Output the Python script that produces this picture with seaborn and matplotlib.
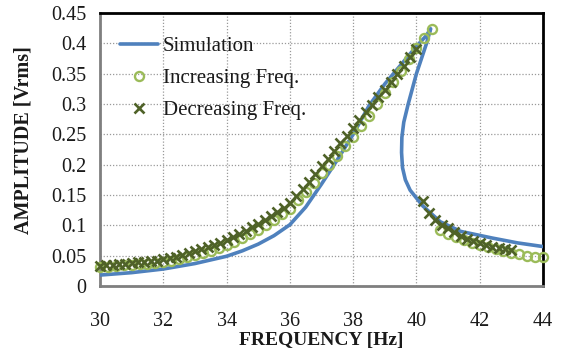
import numpy as np
import pandas as pd
import seaborn as sns
import matplotlib
matplotlib.use("Agg")
import matplotlib.pyplot as plt

# ==========================================
# Data
# ==========================================

# simulation: one continuous curve (goes up, folds back, comes down)
sim_freq = [30, 31, 32, 33, 34, 34.5, 35, 35.5, 36, 36.5, 37, 37.5, 38, 38.5,
            39, 39.5, 40, 40.3, 40.45, 40.32, 40.0, 39.74, 39.6, 39.54, 39.53,
            39.56, 39.65, 39.8, 40.2, 40.75, 41.4, 42.4, 43.2, 44]
sim_amp = [0.018, 0.022, 0.028, 0.037, 0.049, 0.058, 0.069, 0.083, 0.101,
           0.130, 0.168, 0.208, 0.250, 0.297, 0.333, 0.364, 0.395, 0.412,
           0.424, 0.400, 0.350, 0.300, 0.270, 0.245, 0.220, 0.195, 0.175,
           0.158, 0.132, 0.106, 0.090, 0.079, 0.071, 0.065]

# increasing frequency sweep
inc_freq = [30, 30.25, 30.5, 30.75, 31, 31.25, 31.5, 31.75, 32, 32.25, 32.5,
            32.75, 33, 33.25, 33.5, 33.75, 34, 34.25, 34.5, 34.75, 35, 35.25,
            35.5, 35.75, 36, 36.25, 36.5, 36.75, 37, 37.25, 37.5, 37.75, 38,
            38.25, 38.5, 38.75, 39, 39.25, 39.5, 39.75, 40, 40.25, 40.5,
            40.75, 41, 41.25, 41.5, 41.75, 42, 42.25, 42.5, 42.75, 43, 43.25,
            43.5, 43.75, 44]
inc_amp = [0.032, 0.032, 0.033, 0.034, 0.035, 0.036, 0.037, 0.038, 0.040,
           0.042, 0.045, 0.048, 0.051, 0.054, 0.058, 0.062, 0.067, 0.073,
           0.079, 0.086, 0.093, 0.101, 0.109, 0.118, 0.127, 0.141, 0.155,
           0.170, 0.186, 0.200, 0.215, 0.230, 0.245, 0.263, 0.281, 0.300,
           0.318, 0.337, 0.355, 0.374, 0.392, 0.408, 0.424,
           0.093, 0.086, 0.080, 0.075, 0.071, 0.067, 0.064, 0.061, 0.058,
           0.055, 0.052, 0.050, 0.048, 0.047]

# decreasing frequency sweep
dec_freq = [43.0, 42.8, 42.6, 42.4, 42.2, 42.0, 41.8, 41.6, 41.4, 41.2, 41.0,
            40.8, 40.6, 40.4, 40.2,
            40.0, 39.8, 39.6, 39.4, 39.2, 39.0, 38.8, 38.6, 38.4, 38.2, 38.0,
            37.8, 37.6, 37.4, 37.2, 37.0, 36.8, 36.6, 36.4, 36.2, 36.0, 35.8,
            35.6, 35.4, 35.2, 35.0, 34.8, 34.6, 34.4, 34.2, 34.0, 33.8, 33.6,
            33.4, 33.2, 33.0, 32.8, 32.6, 32.4, 32.2, 32.0, 31.8, 31.6, 31.4,
            31.2, 31.0, 30.8, 30.6, 30.4, 30.2, 30.0]
dec_amp = [0.059, 0.061, 0.063, 0.065, 0.068, 0.071, 0.074, 0.078, 0.083,
           0.089, 0.095, 0.101, 0.108, 0.120, 0.140,
           0.390, 0.377, 0.363, 0.349, 0.336, 0.323, 0.311, 0.298, 0.286,
           0.273, 0.260, 0.247, 0.235, 0.222, 0.209, 0.197, 0.184, 0.172,
           0.160, 0.148, 0.137, 0.129, 0.122, 0.115, 0.109, 0.103, 0.097,
           0.091, 0.085, 0.080, 0.075, 0.071, 0.067, 0.064, 0.061, 0.058,
           0.054, 0.051, 0.048, 0.046, 0.044, 0.042, 0.041, 0.040, 0.039,
           0.038, 0.037, 0.036, 0.035, 0.034, 0.033]

x_ticks = [30, 32, 34, 36, 38, 40, 42, 44]
y_ticks = [0, 0.05, 0.1, 0.15, 0.2, 0.25, 0.3, 0.35, 0.4, 0.45]
y_tick_labels = ["0", "0.05", "0.1", "0.15", "0.2", "0.25", "0.3", "0.35",
                 "0.4", "0.45"]

# ==========================================
# Plot
# ==========================================

sns.set_style("white")
plt.rcParams['font.family'] = ['Liberation Serif', 'DejaVu Serif']

fig = plt.figure(figsize=(5.63, 3.51), dpi=100)
ax = fig.add_axes([0.1776, 0.1852, 0.7869, 0.7778])

sns.lineplot(x=sim_freq, y=sim_amp, sort=False, estimator=None, ax=ax,
             color='#4F81BD', linewidth=2.6, label='Simulation', zorder=3)

sns.lineplot(x=inc_freq, y=inc_amp, sort=False, estimator=None, ax=ax,
             linestyle='', marker='o', markersize=6.5,
             markerfacecolor='none', markeredgecolor='#9BBB59',
             markeredgewidth=1.7, label='Increasing Freq.', zorder=4,
             clip_on=False)

sns.lineplot(x=dec_freq, y=dec_amp, sort=False, estimator=None, ax=ax,
             linestyle='', marker='x', markersize=6.5, color='#4F6228',
             markeredgecolor='#4F6228', markeredgewidth=1.9,
             label='Decreasing Freq.', zorder=5, clip_on=False)

ax.set_xlim(30, 44)
ax.set_ylim(0, 0.45)
ax.set_xticks(x_ticks)
ax.set_yticks(y_ticks)
ax.set_yticklabels(y_tick_labels)

ax.grid(True, color='#9A9A9A', linestyle=(0, (1, 1.5)), linewidth=0.9)
ax.tick_params(axis='both', length=0, labelsize=14.5, colors='#1A1A1A')
ax.tick_params(axis='x', pad=19)
ax.tick_params(axis='y', pad=10)

for side in ['top', 'right']:
    ax.spines[side].set_color('#000000')
    ax.spines[side].set_linewidth(2.0)
for side in ['left', 'bottom']:
    ax.spines[side].set_color('#7F7F7F')
    ax.spines[side].set_linewidth(2.0)

ax.set_xlabel('FREQUENCY [Hz]', fontsize=14, fontweight='bold',
              color='#1A1A1A')
ax.set_ylabel('AMPLITUDE [Vrms]', fontsize=14.5, fontweight='bold',
              color='#1A1A1A')
ax.xaxis.set_label_coords(0.5, -0.168)
ax.yaxis.set_label_coords(-0.151, 0.535)

leg = ax.legend(loc='upper left', bbox_to_anchor=(0.027, 0.945),
                frameon=False, fontsize=15, handlelength=1.8,
                handletextpad=0.25, labelspacing=0.6, borderaxespad=0)
for t in leg.get_texts():
    t.set_color('#1A1A1A')

fig.savefig('out.png', dpi=100)
